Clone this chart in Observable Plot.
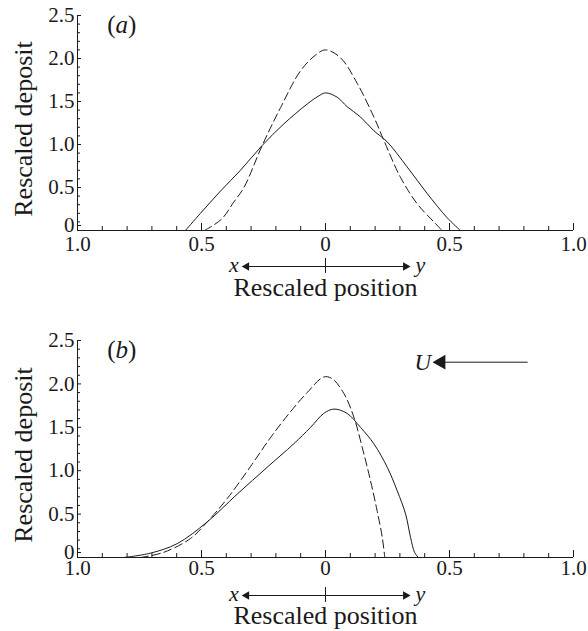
<!DOCTYPE html>
<html><head><meta charset="utf-8">
<script src="https://cdn.jsdelivr.net/npm/d3@7"></script>
<script src="https://cdn.jsdelivr.net/npm/@observablehq/plot@0.6"></script>
<style>body{margin:0;background:#fff} #chart svg{display:block} #chart svg text{font-family:"Liberation Serif","Times New Roman",serif}</style>
</head><body><div id="chart"></div>
<script>
// ---- tick values ----
const xMajorTicks = [-1, -0.5, 0, 0.5, 1];
const xMinorTicks = [-0.9,-0.8,-0.7,-0.6,-0.4,-0.3,-0.2,-0.1,0.1,0.2,0.3,0.4,0.6,0.7,0.8,0.9];
const yMajorTicks = [0.5, 1, 1.5, 2, 2.5];
const yZeroTick = [0];
const yMinorTicks = [0.1,0.2,0.3,0.4,0.6,0.7,0.8,0.9,1.1,1.2,1.3,1.4,1.6,1.7,1.8,1.9,2.1,2.2,2.3,2.4];
const positionArrowEnds = [-0.33, 0.335];
const positionArrowLabels = ["x", "y"];

// ---- panel (a) ----
const aSolidX = [-0.565,-0.504,-0.423,-0.343,-0.255,-0.168,-0.074,-0.03,0,0.047,0.087,0.141,0.195,0.249,0.329,0.41,0.49,0.544];
const aSolidY = [0,0.20,0.46,0.70,0.99,1.24,1.47,1.56,1.60,1.55,1.44,1.32,1.16,1.03,0.74,0.43,0.15,0];
const aDashX = [-0.488,-0.42,-0.37,-0.329,-0.255,-0.181,-0.10,-0.04,0,0.06,0.128,0.195,0.235,0.302,0.37,0.437,0.47];
const aDashY = [0,0.13,0.33,0.50,0.99,1.43,1.86,2.04,2.10,2.01,1.71,1.32,1.05,0.62,0.31,0.10,0];

// ---- panel (b) ----
const bSolidX = [-0.813,-0.706,-0.598,-0.477,-0.356,-0.235,-0.128,-0.06,-0.007,0.034,0.087,0.141,0.195,0.249,0.289,0.323,0.343,0.359,0.374];
const bSolidY = [0,0.05,0.16,0.41,0.73,1.04,1.31,1.50,1.66,1.71,1.66,1.50,1.31,1.04,0.77,0.50,0.23,0.06,0];
const bDashX = [-0.746,-0.652,-0.544,-0.477,-0.396,-0.302,-0.222,-0.141,-0.074,-0.007,0.027,0.074,0.114,0.148,0.181,0.208,0.229,0.239];
const bDashY = [0,0.06,0.22,0.41,0.68,1.05,1.38,1.68,1.90,2.08,2.06,1.89,1.62,1.27,0.89,0.54,0.23,0];

// flow arrow U (panel b)
const uArrowX = [0.815, 0.45];
const uArrowY = [2.25];
const panelLabelPos = {x: -0.88, y: 2.3};

const serif = '"Liberation Serif", "Times New Roman", serif';
const ink = "#1a1a1a";
const zip = (xs, ys) => xs.map((x, i) => ({x, y: ys[i]}));
const fmtX = d => d === 0 ? "0" : Math.abs(d).toFixed(1);
const fmtY = d => d === 0 ? "0" : d.toFixed(1);

function panel({tag, solid, dash, height, marginTop, marginBottom, labelOffset, arrowDy, titleDy, extra = []}) {
  const frameH = height - marginTop - marginBottom;
  return Plot.plot({
    width: 588, height, marginTop, marginBottom, marginLeft: 77, marginRight: 15,
    style: {fontFamily: serif, color: ink, background: "white", overflow: "visible"},
    x: {domain: [-1, 1], label: null},
    y: {domain: [0, 2.5], label: null},
    marks: [
      Plot.ruleY([0], {stroke: ink, strokeWidth: 1}),
      Plot.ruleX([-1], {stroke: ink, strokeWidth: 1}),
      Plot.axisX(xMajorTicks, {tickSize: -7, tickPadding: 7 + labelOffset, tickFormat: fmtX, fontSize: 21, fontFamily: serif, stroke: ink, fill: ink}),
      Plot.axisX(xMinorTicks, {tickSize: -4, tickFormat: () => "", stroke: ink}),
      Plot.axisY(yMajorTicks, {tickSize: -4, tickPadding: 7, tickFormat: fmtY, fontSize: 21, fontFamily: serif, stroke: ink, fill: ink}),
      Plot.axisY(yZeroTick, {tickSize: -4, tickPadding: 7, tickFormat: fmtY, fontSize: 21, fontFamily: serif, dy: -5, stroke: ink, fill: ink}),
      Plot.axisY(yMinorTicks, {tickSize: -3, tickFormat: () => "", stroke: ink}),
      Plot.line(dash, {x: "x", y: "y", curve: "catmull-rom", stroke: ink, strokeWidth: 1, strokeDasharray: "8,4"}),
      Plot.line(solid, {x: "x", y: "y", curve: "catmull-rom", stroke: ink, strokeWidth: 1}),
      Plot.text([tag], {x: panelLabelPos.x, y: panelLabelPos.y, text: d => d, textAnchor: "start", lineAnchor: "bottom", fontSize: 25, fontFamily: serif, fill: ink}),
      Plot.text(["Rescaled deposit"], {frameAnchor: "left", text: d => d, textAnchor: "middle", rotate: -90, dx: -54, dy: 6, fontSize: 26, fontFamily: serif, fill: ink}),
      Plot.link(positionArrowEnds, {x1: 0, x2: d => d, y1: 0, y2: 0, dy: arrowDy, stroke: ink, strokeWidth: 1}),
      Plot.dot([positionArrowEnds[0]], {x: d => d, y: 0, symbol: "triangle", rotate: -90, r: 3.2, fill: ink, stroke: "none", dy: arrowDy, dx: 3}),
      Plot.dot([positionArrowEnds[1]], {x: d => d, y: 0, symbol: "triangle", rotate: 90, r: 3.2, fill: ink, stroke: "none", dy: arrowDy, dx: -3}),
      Plot.ruleX([0], {insetTop: frameH - 15, dy: arrowDy + 7, stroke: ink, strokeWidth: 1}),
      Plot.text([positionArrowLabels[0]], {x: positionArrowEnds[0], y: 0, text: d => d, dy: arrowDy - 2, dx: -5, textAnchor: "end", fontStyle: "italic", fontSize: 22, fontFamily: serif, fill: ink}),
      Plot.text([positionArrowLabels[1]], {x: positionArrowEnds[1], y: 0, text: d => d, dy: arrowDy - 2, dx: 7, textAnchor: "start", fontStyle: "italic", fontSize: 22, fontFamily: serif, fill: ink}),
      Plot.text(["Rescaled position"], {x: 0, frameAnchor: "bottom", text: d => d, dy: titleDy, lineAnchor: "bottom", fontSize: 26, fontFamily: serif, fill: ink}),
      ...extra
    ]
  });
}

function italicizeTag(svg, tag) {
  svg.querySelectorAll("text").forEach(t => {
    if (t.textContent === tag) {
      const letter = tag.slice(1, -1);
      t.textContent = "";
      const ns = "http://www.w3.org/2000/svg";
      [["(", null], [letter, "italic"], [")", null]].forEach(([s, st]) => {
        const ts = document.createElementNS(ns, "tspan");
        ts.textContent = s;
        if (st) ts.setAttribute("font-style", st);
        t.appendChild(ts);
      });
    }
  });
}

const chartA = panel({
  tag: "(a)", solid: zip(aSolidX, aSolidY), dash: zip(aDashX, aDashY),
  height: 310, marginTop: 15, marginBottom: 80, labelOffset: 6, arrowDy: 36, titleDy: 65
});
const chartB = panel({
  tag: "(b)", solid: zip(bSolidX, bSolidY), dash: zip(bDashX, bDashY),
  height: 321, marginTop: 30, marginBottom: 74, labelOffset: 3, arrowDy: 38, titleDy: 66,
  extra: [
    Plot.link(uArrowY, {x1: uArrowX[0], x2: uArrowX[1], y1: d => d, y2: d => d, stroke: ink, strokeWidth: 1}),
    Plot.dot(uArrowY, {x: uArrowX[1], y: d => d, symbol: "triangle", rotate: -90, r: 5.5, fill: ink, stroke: "none", dx: 4}),
    Plot.text(uArrowY, {x: uArrowX[1], y: d => d, text: () => "U", textAnchor: "end", dx: -6, fontStyle: "italic", fontSize: 23, fontFamily: serif, fill: ink})
  ]
});
italicizeTag(chartA, "(a)");
italicizeTag(chartB, "(b)");
document.getElementById("chart").append(chartA, chartB);
</script>
</body></html>
